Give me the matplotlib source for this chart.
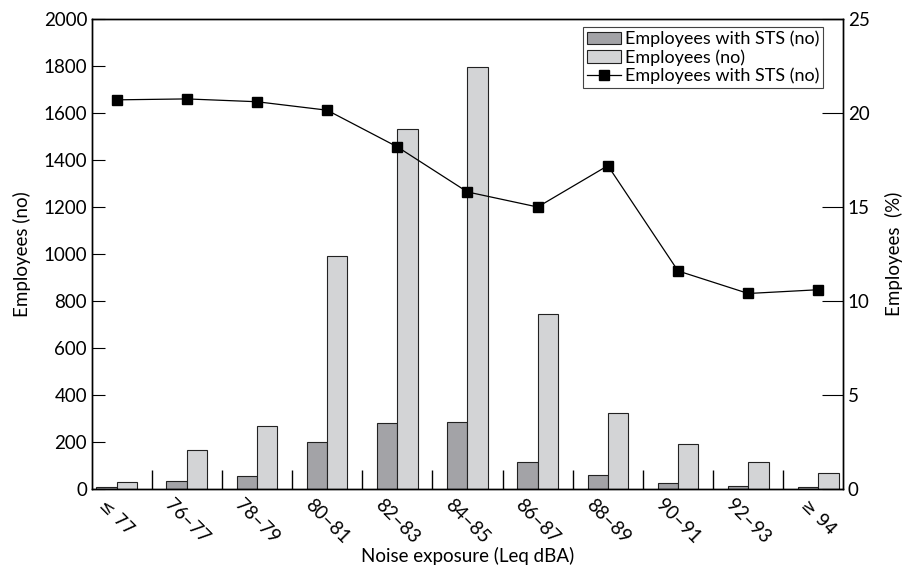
import numpy as np
from matplotlib import pyplot as plt
from matplotlib.ticker import FixedLocator
from matplotlib.transforms import ScaledTranslation

plt.rcParams['font.family'] = ['Lato', 'DejaVu Sans']

bands = ["\u2264 77", "76\u201377", "78\u201379", "80\u201381", "82\u201383", "84\u201385",
         "86\u201387", "88\u201389", "90\u201391", "92\u201393", "\u2265 94"]

# number of employees with STS / all employees per exposure band
sts_no = [7, 33, 55, 201, 280, 284, 113, 58, 24, 11, 7]
employees_no = [30, 166, 266, 993, 1530, 1797, 745, 323, 191, 116, 66]

# percentage of employees with STS
sts_pct = [20.7, 20.75, 20.6, 20.15, 18.2, 15.8, 15.0, 17.2, 11.6, 10.4, 10.6]

fig = plt.figure(figsize=(9.08, 5.71), dpi=100)
ax1 = fig.add_axes([0.1013, 0.1436, 0.8271, 0.8231])
x = np.arange(len(bands))
w = 0.29

ax1.bar(x - w / 2, sts_no, w, color='#a3a3a7', edgecolor='#222222', linewidth=0.8,
        label='Employees with STS (no)')
ax1.bar(x + w / 2, employees_no, w, color='#d3d4d6', edgecolor='#222222', linewidth=0.8,
        label='Employees (no)')
ax1.set_ylim(0, 2000)
ax1.set_yticks(range(0, 2001, 200))
ax1.set_xlim(-0.35, len(bands) - 0.65)
ax1.set_xticks(x)
ax1.set_xticklabels(bands, rotation=-45, ha='center', va='top', fontsize=13.5)
shift = ScaledTranslation(8 / 100, 0, fig.dpi_scale_trans)
for i, lab in enumerate(ax1.get_xticklabels()):
    lab.set_transform(lab.get_transform() + shift)
    if i in (0, len(bands) - 1):
        lab.set_fontfamily(['DejaVu Sans'])
        lab.set_fontsize(12.5)
ax1.xaxis.set_minor_locator(FixedLocator(x[:-1] + 0.5))
ax1.tick_params(axis='x', which='major', length=0, pad=5)
ax1.tick_params(axis='x', which='minor', direction='in', length=14, width=1)
ax1.tick_params(axis='y', direction='in', length=9, labelsize=13.5)
ax1.set_ylabel('Employees (no)', fontsize=13.5, labelpad=9)
ax1.set_xlabel('Noise exposure (Leq dBA)', fontsize=13.5, labelpad=0)

ax2 = ax1.twinx()
ax2.plot(x, sts_pct, color='black', linewidth=0.9, marker='s', markersize=6.5,
         label='Employees with STS (no)')
ax2.set_ylim(0, 25)
ax2.set_yticks(range(0, 26, 5))
ax2.tick_params(axis='y', direction='in', length=15, labelsize=13.5)
ax2.set_ylabel('Employees  (%)', fontsize=13.5, labelpad=11)

h1, l1 = ax1.get_legend_handles_labels()
h2, l2 = ax2.get_legend_handles_labels()
leg = ax2.legend(h1 + h2, l1 + l2, loc='upper right', fontsize=13, fancybox=False,
                 framealpha=1, edgecolor='#444444', borderpad=0.2, labelspacing=0.1,
                 handlelength=1.9, handletextpad=0.2, borderaxespad=0,
                 bbox_to_anchor=(0.973, 0.983))
leg.get_frame().set_linewidth(0.8)

for ax in (ax1, ax2):
    for s in ax.spines.values():
        s.set_linewidth(1)

plt.savefig('out.png', dpi=100)
